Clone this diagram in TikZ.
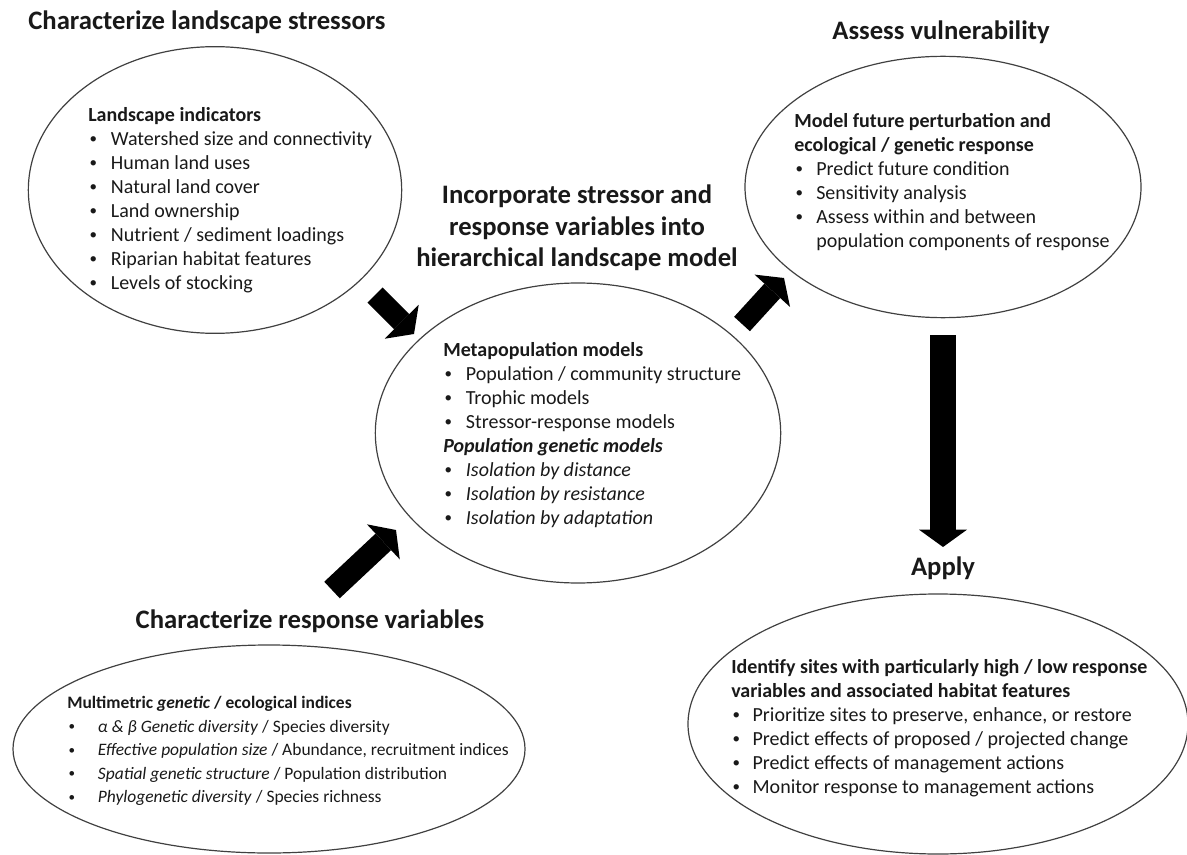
\documentclass[tikz,border=0pt]{standalone}
\usepackage{fontspec}
\setmainfont{Carlito}
\usepackage{graphicx}
\usepackage{tikz}
\usetikzlibrary{arrows.meta,shapes.geometric}
\newcommand{\puce}[1][17pt]{\makebox[#1][l]{\hspace{1pt}\raisebox{0.2ex}{\scalebox{0.75}{\textbullet}}}}
\tikzset{
Bulle/.style={
 ellipse,
 draw=black!75,
 line width=0.9pt,
 inner sep=0pt
 },
Titre/.style={
 font=\fontsize{20}{23.6}\selectfont\bfseries,
 text=black!90,
 inner sep=0pt
 },
Texte/.style={
 font=\fontsize{15}{18}\selectfont,
 text=black!90,
 align=left,
 anchor=north west,
 inner sep=0pt
 },
Fleche/.style={
 draw=black,
 line width=#1,
 -{Triangle[length=13pt,width=36pt,line width=0pt]}
 },
Fleche/.default={17pt}
}
\begin{document}
\begin{tikzpicture}[x=0.75pt,y=-0.75pt]
\useasboundingbox (0,0) rectangle (1187,855);
% ellipses
\node[Bulle,minimum width=280pt,minimum height=215pt] (stress) at (215,190) {};
\node[Bulle,minimum width=304pt,minimum height=225pt] (modele) at (578,433) {};
\node[Bulle,minimum width=297pt,minimum height=196pt] (vuln) at (943,187) {};
\node[Bulle,minimum width=384pt,minimum height=156pt] (reponse) at (269,749) {};
\node[Bulle,minimum width=375pt,minimum height=195pt] (appli) at (938,724) {};
% titres
\node[Titre] (tStress) at (207,22) {Characterize landscape stressors};
\node[Titre] (tVuln) at (941,32) {Assess vulnerability};
\node[Titre] (tReponse) at (310,621) {Characterize response variables};
\node[Titre] (tAppli) at (943,568) {Apply};
\node[Titre,align=center] (tModele) at (577,228)
 {Incorporate stressor and\\response variables into\\hierarchical landscape model};
% textes
\node[Texte] (lStress) at (88,107) {\textbf{Landscape indicators}\\
 \puce Watershed size and connectivity\\
 \puce Human land uses\\
 \puce Natural land cover\\
 \puce Land ownership\\
 \puce Nutrient / sediment loadings\\
 \puce Riparian habitat features\\
 \puce Levels of stocking};
\node[Texte] (lModele) at (443,342) {\textbf{Metapopulation models}\\
 \puce Population / community structure\\
 \puce Trophic models\\
 \puce Stressor-response models\\
 \textbf{\textit{Population genetic models}}\\
 \puce\textit{Isolation by distance}\\
 \puce\textit{Isolation by resistance}\\
 \puce\textit{Isolation by adaptation}};
\node[Texte] (lVuln) at (794,113) {\textbf{Model future perturbation and}\\
 \textbf{ecological / genetic response}\\
 \puce[16.5pt]Predict future condition\\
 \puce[16.5pt]Sensitivity analysis\\
 \puce[16.5pt]Assess within and between\\
 \makebox[16.5pt]{}population components of response};
\node[Texte,font=\fontsize{13.1}{17.7}\selectfont] (lReponse) at (67,696) {\textbf{Multimetric \textit{genetic} / ecological indices}\\
 \puce[23pt]\textit{α \& β Genetic diversity} / Species diversity\\
 \puce[23pt]\textit{Effective population size} / Abundance, recruitment indices\\
 \puce[23pt]\textit{Spatial genetic structure} / Population distribution\\
 \puce[23pt]\textit{Phylogenetic diversity} / Species richness};
\node[Texte] (lAppli) at (731,659) {\textbf{Identify sites with particularly high / low response}\\
 \textbf{variables and associated habitat features}\\
 \puce[16pt]Prioritize sites to preserve, enhance, or restore\\
 \puce[16pt]Predict effects of proposed / projected change\\
 \puce[16pt]Predict effects of management actions\\
 \puce[16pt]Monitor response to management actions};
% fleches
\coordinate (a1) at (375,295);
\coordinate (a2) at (414,334);
\coordinate (b1) at (742,324);
\coordinate (b2) at (784,278);
\coordinate (c1) at (332,590);
\coordinate (c2) at (396,530);
\coordinate (d1) at (943,335);
\coordinate (d2) at (943,547);
\draw[Fleche=16pt] (a1) -- (a2);
\draw[Fleche=16pt] (b1) -- (b2);
\draw[Fleche] (c1) -- (c2);
\draw[Fleche=20pt] (d1) -- (d2);
\end{tikzpicture}
\end{document}
